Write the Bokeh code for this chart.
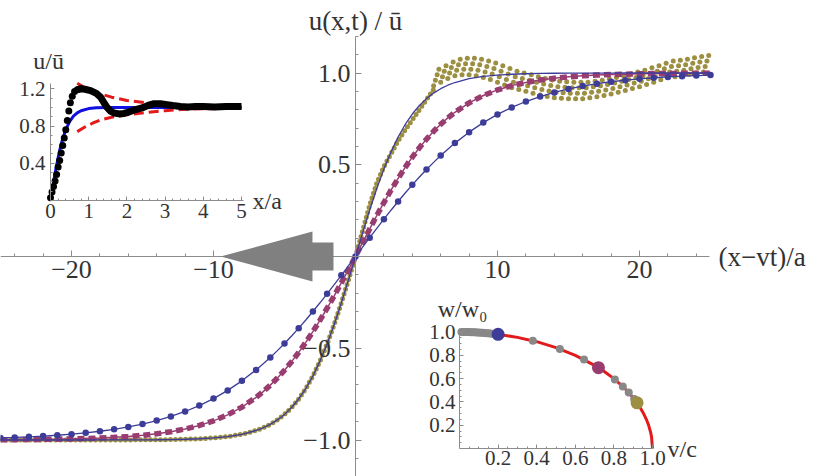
from bokeh.plotting import figure
from bokeh.models import Range1d, LinearAxis, FixedTicker, Label
from bokeh.embed import file_html
from bokeh.resources import INLINE

# ---------------- data ----------------
# main panel: common abscissa for the smooth curves
theory_x = [-25, -24, -23, -22, -21, -20, -19, -18, -17, -16, -15, -14, -13, -12, -11, -10, -9, -8, -7,
            -6.5, -6, -5.5, -5, -4.5, -4, -3.5, -3, -2.5, -2, -1.5, -1, -0.5, 0,
            0.5, 1, 1.5, 2, 2.5, 3, 3.5, 4, 4.5, 5, 5.5, 6, 6.5,
            7, 8, 9, 10, 11, 12, 13, 14, 15, 16, 17, 18, 19, 20, 21, 22, 23, 24, 25]
# theory curve through the blue (v/c = 0.2) data
blue_theory_y = [-0.9885, -0.9859, -0.9827, -0.9788, -0.9740, -0.9681, -0.9610, -0.9523, -0.9417, -0.9288,
                 -0.9132, -0.8943, -0.8717, -0.8446, -0.8124, -0.7743, -0.7296, -0.6777, -0.6179,
                 -0.5850, -0.5501, -0.5131, -0.4742, -0.4333, -0.3905, -0.3459, -0.2998, -0.2522, -0.2033,
                 -0.1534, -0.1027, -0.0515, 0.0,
                 0.0515, 0.1027, 0.1534, 0.2033, 0.2522, 0.2998, 0.3459, 0.3905, 0.4333, 0.4742, 0.5131,
                 0.5501, 0.5850,
                 0.6179, 0.6777, 0.7296, 0.7743, 0.8124, 0.8446, 0.8717, 0.8943, 0.9132, 0.9288, 0.9417,
                 0.9523, 0.9610, 0.9681, 0.9740, 0.9788, 0.9827, 0.9859, 0.9885]
# theory curve for the olive (v/c = 0.92) data
olive_theory_y = [-1.0, -1.0, -1.0, -1.0, -1.0, -0.9999, -0.9999, -0.9998, -0.9997, -0.9995, -0.9991,
                  -0.9986, -0.9976, -0.9960, -0.9933, -0.9888, -0.9813, -0.9688, -0.9482,
                  -0.9334, -0.9145, -0.8906, -0.8605, -0.8229, -0.7764, -0.7196, -0.6511, -0.5701, -0.4763,
                  -0.3702, -0.2535, -0.1288, 0.0,
                  0.1288, 0.2535, 0.3702, 0.4763, 0.5701, 0.6511, 0.7196, 0.7764, 0.8229, 0.8605, 0.8906,
                  0.9145, 0.9334,
                  0.9482, 0.9688, 0.9813, 0.9888, 0.9933, 0.9960, 0.9976, 0.9986, 0.9991, 0.9995, 0.9997,
                  0.9998, 0.9999, 0.9999, 1.0, 1.0, 1.0, 1.0, 1.0]
# purple (v/c = 0.72) simulation data
purple_y = [-0.9986, -0.9981, -0.9975, -0.9966, -0.9955, -0.9939, -0.9919, -0.9892, -0.9856, -0.9808,
            -0.9745, -0.9660, -0.9549, -0.9401, -0.9208, -0.8956, -0.8628, -0.8209, -0.7676,
            -0.7362, -0.7011, -0.6624, -0.6198, -0.5731, -0.5224, -0.4678, -0.4093, -0.3472, -0.2820,
            -0.2140, -0.1439, -0.0723, 0.0,
            0.0756, 0.1504, 0.2235, 0.2941, 0.3617, 0.4256, 0.4856, 0.5414, 0.5927, 0.6396, 0.6823,
            0.7207, 0.7552,
            0.7859, 0.8373, 0.8772, 0.9078, 0.9311, 0.9487, 0.9618, 0.9717, 0.9790, 0.9844, 0.9885,
            0.9915, 0.9937, 0.9953, 0.9966, 0.9975, 0.9981, 0.9986, 0.9990]
# blue simulation points
blue_dot_x = [-25, -24, -23, -22, -21, -20, -19, -18, -17, -16, -15, -14, -13, -12, -11, -10, -9, -8, -7,
              -6, -5, -4, -3, -2, -1, 0, 1, 2, 3, 4, 5, 6,
              7, 8, 9, 10, 11, 12, 13, 14, 15, 16, 17, 18, 19, 20, 21, 22, 23, 24, 25]
blue_dot_y = [-0.9885, -0.9859, -0.9827, -0.9788, -0.9740, -0.9681, -0.9610, -0.9523, -0.9417, -0.9288,
              -0.9132, -0.8943, -0.8717, -0.8446, -0.8124, -0.7743, -0.7296, -0.6777, -0.6179,
              -0.5501, -0.4742, -0.3905, -0.2998, -0.2033, -0.1027, 0.0, 0.1027, 0.2033, 0.2998, 0.3905,
              0.4742, 0.5501,
              0.6179, 0.6777, 0.7296, 0.7743, 0.8124, 0.8446, 0.8717, 0.8943, 0.9132, 0.9288, 0.9417,
              0.9523, 0.9610, 0.9681, 0.9740, 0.9788, 0.9827, 0.9859, 0.9885]
# olive simulation: kink part
olive_kink_x = [-25, -24, -23, -22, -21, -20, -19, -18, -17, -16, -15, -14, -13, -12, -11, -10, -9, -8, -7,
                -6.5, -6, -5.5, -5, -4.5, -4, -3.5, -3, -2.5, -2, -1.5, -1, -0.5, 0,
                0.5, 1, 1.5, 2, 2.5, 3, 3.5, 4, 4.5, 5, 5.5]
olive_kink_y = [-1.0, -1.0, -1.0, -1.0, -1.0, -0.9999, -0.9999, -0.9998, -0.9997, -0.9995, -0.9991,
                -0.9986, -0.9976, -0.9960, -0.9933, -0.9888, -0.9813, -0.9688, -0.9482,
                -0.9334, -0.9145, -0.8906, -0.8605, -0.8229, -0.7764, -0.7196, -0.6511, -0.5701, -0.4763,
                -0.3702, -0.2535, -0.1288, 0.0,
                0.14, 0.28, 0.40, 0.49, 0.56, 0.63, 0.69, 0.745, 0.80, 0.855, 0.91]
# olive simulation: oscillating tail (four strands of points)
olive_s1_x = [5.5, 6.0, 6.5, 7.0, 7.5, 8.0, 8.5, 9.0, 9.5, 10.0, 10.5, 11.0, 11.5, 12.0, 12.5, 13.0, 13.5,
              14.0, 14.5, 15.0, 15.5, 16.0, 16.5, 17.0, 17.5, 18.0, 18.5, 19.0, 19.5, 20.0, 20.5, 21.0,
              21.5, 22.0, 22.5, 23.0, 23.5, 24.0, 24.5]
olive_s1_y = [0.930, 0.950, 0.970, 0.985, 0.990, 0.990, 0.985, 0.975, 0.965, 0.950, 0.935, 0.920, 0.910,
              0.900, 0.890, 0.880, 0.872, 0.865, 0.862, 0.860, 0.859, 0.860, 0.865, 0.870, 0.877, 0.885,
              0.895, 0.905, 0.915, 0.925, 0.938, 0.950, 0.963, 0.975, 0.980, 0.985, 0.993, 1.000, 1.005]
olive_s2_x = [5.625, 6.125, 6.625, 7.125, 7.625, 8.125, 8.625, 9.125, 9.625, 10.125, 10.625, 11.125,
              11.625, 12.125, 12.625, 13.125, 13.625, 14.125, 14.625, 15.125, 15.625, 16.125, 16.625,
              17.125, 17.625, 18.125, 18.625, 19.125, 19.625, 20.125, 20.625, 21.125, 21.625, 22.125,
              22.625, 23.125, 23.625, 24.125, 24.625]
olive_s2_y = [0.960, 0.980, 1.000, 1.015, 1.020, 1.020, 1.015, 1.005, 0.995, 0.980, 0.965, 0.950, 0.940,
              0.930, 0.920, 0.910, 0.902, 0.895, 0.892, 0.890, 0.889, 0.890, 0.895, 0.900, 0.907, 0.915,
              0.925, 0.935, 0.945, 0.955, 0.968, 0.980, 0.993, 1.005, 1.010, 1.015, 1.023, 1.030, 1.035]
olive_s3_x = [5.75, 6.25, 6.75, 7.25, 7.75, 8.25, 8.75, 9.25, 9.75, 10.25, 10.75, 11.25, 11.75, 12.25,
              12.75, 13.25, 13.75, 14.25, 14.75, 15.25, 15.75, 16.25, 16.75, 17.25, 17.75, 18.25, 18.75,
              19.25, 19.75, 20.25, 20.75, 21.25, 21.75, 22.25, 22.75, 23.25, 23.75, 24.25, 24.75]
olive_s3_y = [0.990, 1.010, 1.030, 1.045, 1.050, 1.050, 1.045, 1.035, 1.025, 1.010, 0.995, 0.980, 0.970,
              0.960, 0.950, 0.940, 0.932, 0.925, 0.922, 0.920, 0.919, 0.920, 0.925, 0.930, 0.937, 0.945,
              0.955, 0.965, 0.975, 0.985, 0.998, 1.010, 1.023, 1.035, 1.040, 1.045, 1.053, 1.060, 1.065]
olive_s4_x = [5.875, 6.375, 6.875, 7.375, 7.875, 8.375, 8.875, 9.375, 9.875, 10.375, 10.875, 11.375,
              11.875, 12.375, 12.875, 13.375, 13.875, 14.375, 14.875, 15.375, 15.875, 16.375, 16.875,
              17.375, 17.875, 18.375, 18.875, 19.375, 19.875, 20.375, 20.875, 21.375, 21.875, 22.375,
              22.875, 23.375, 23.875, 24.375, 24.875]
olive_s4_y = [1.020, 1.040, 1.060, 1.075, 1.080, 1.080, 1.075, 1.065, 1.055, 1.040, 1.025, 1.010, 1.000,
              0.990, 0.980, 0.970, 0.962, 0.955, 0.952, 0.950, 0.949, 0.950, 0.955, 0.960, 0.967, 0.975,
              0.985, 0.995, 1.005, 1.015, 1.028, 1.040, 1.053, 1.065, 1.070, 1.075, 1.083, 1.090, 1.095]

main_x_ticks = [-20, -10, 10, 20]
main_x_labels = ["\u221220", "\u221210", "10", "20"]
main_x_minor = [-24, -22, -20, -18, -16, -14, -12, -10, -8, -6, -4, -2, 2, 4, 6, 8, 10, 12, 14, 16, 18, 20, 22, 24]
main_y_ticks = [-1.0, -0.5, 0.5, 1.0]
main_y_labels = ["\u22121.0", "\u22120.5", "0.5", "1.0"]
main_y_minor = [-1.2, -1.1, -1.0, -0.9, -0.8, -0.7, -0.6, -0.5, -0.4, -0.3, -0.2, -0.1,
                0.1, 0.2, 0.3, 0.4, 0.5, 0.6, 0.7, 0.8, 0.9, 1.0, 1.1, 1.2]

# inset 1 (top left): u/ubar vs x/a
in1_black_dot_x = [0.00, 0.04, 0.08, 0.12, 0.16, 0.20, 0.24, 0.28, 0.32, 0.36, 0.40, 0.44, 0.48, 0.52, 0.57, 0.63, 0.70, 0.79]
in1_black_dot_y = [0.03, 0.09, 0.15, 0.21, 0.28, 0.36, 0.43, 0.51, 0.59, 0.67, 0.76, 0.86, 0.96, 1.05, 1.12, 1.17, 1.19, 1.20]
in1_black_line_x = [0.70, 0.79, 0.90, 1.05, 1.20, 1.31, 1.40, 1.48, 1.57, 1.66, 1.80, 1.92, 2.05, 2.18,
                    2.30, 2.44, 2.58, 2.71, 2.88, 3.05, 3.20, 3.40, 3.60, 3.80, 4.00, 4.30, 4.60, 5.00]
in1_black_line_y = [1.19, 1.20, 1.195, 1.18, 1.15, 1.11, 1.05, 1.00, 0.96, 0.94, 0.93, 0.935, 0.95, 0.97,
                    0.985, 1.00, 1.025, 1.04, 1.04, 1.03, 1.02, 1.01, 1.005, 1.01, 1.01, 1.005, 1.01, 1.01]
in1_blue_x = [0, 0.05, 0.1, 0.15, 0.2, 0.25, 0.3, 0.4, 0.5, 0.6, 0.7, 0.8, 1.0, 1.2, 1.5, 2.0, 3.0, 4.0, 5.0]
in1_blue_y = [0, 0.124, 0.245, 0.358, 0.462, 0.555, 0.635, 0.762, 0.848, 0.905, 0.941, 0.964, 0.987, 0.995,
              0.999, 1.0, 1.0, 1.0, 1.0]
in1_env_x = [0.7, 0.9, 1.1, 1.3, 1.6, 2.0, 2.5, 3.0, 3.5, 4.0, 4.5, 5.0]
in1_env_upper = [1.26, 1.21, 1.17, 1.145, 1.11, 1.075, 1.05, 1.035, 1.02, 1.015, 1.01, 1.005]
in1_env_lower = [0.74, 0.79, 0.83, 0.865, 0.895, 0.92, 0.945, 0.965, 0.98, 0.985, 0.99, 0.995]
in1_x_ticks = [0, 1, 2, 3, 4, 5]
in1_x_labels = ["0", "1", "2", "3", "4", "5"]
in1_x_minor = [0.2, 0.4, 0.6, 0.8, 1.2, 1.4, 1.6, 1.8, 2.2, 2.4, 2.6, 2.8, 3.2, 3.4, 3.6, 3.8, 4.2, 4.4, 4.6, 4.8]
in1_y_ticks = [0.4, 0.8, 1.2]
in1_y_labels = ["0.4", "0.8", "1.2"]
in1_y_minor = [0.1, 0.2, 0.3, 0.5, 0.6, 0.7, 0.9, 1.0, 1.1]

# inset 2 (bottom right): w/w0 vs v/c
in2_curve_v = [0, 0.1, 0.2, 0.3, 0.4, 0.5, 0.6, 0.7, 0.75, 0.8, 0.85, 0.9, 0.93, 0.95, 0.97, 0.98, 0.99, 0.995, 1.0]
in2_curve_w = [1.0, 0.995, 0.980, 0.954, 0.917, 0.866, 0.800, 0.714, 0.661, 0.600, 0.527, 0.436, 0.368,
               0.312, 0.243, 0.199, 0.141, 0.100, 0.0]
in2_gray_v = [0.01, 0.02, 0.03, 0.04, 0.05, 0.06, 0.07, 0.08, 0.09, 0.10, 0.11, 0.12, 0.13, 0.14, 0.15,
              0.16, 0.17, 0.38, 0.52, 0.645, 0.805, 0.846, 0.877, 0.905]
in2_gray_w = [1.0, 1.0, 1.0, 0.999, 0.999, 0.998, 0.998, 0.997, 0.996, 0.995, 0.994, 0.993, 0.992, 0.990,
              0.989, 0.987, 0.985, 0.925, 0.854, 0.764, 0.593, 0.533, 0.480, 0.425]
in2_big_v = [0.20, 0.72, 0.92]
in2_big_w = [0.980, 0.694, 0.392]
in2_ticks = [0.2, 0.4, 0.6, 0.8, 1.0]
in2_labels = ["0.2", "0.4", "0.6", "0.8", "1.0"]
in2_minor = [0.05, 0.1, 0.15, 0.25, 0.3, 0.35, 0.45, 0.5, 0.55, 0.65, 0.7, 0.75, 0.85, 0.9, 0.95]

# ---------------- layout / style ----------------
W, H = 813, 476
FONT = "Liberation Serif"
TXT = "#333333"
AXC = "#8c8c8c"
BLUE = "#3D3D99"
PURPLE = "#993D71"
OLIVE = "#9C8F42"
GRAY = "#888888"

# each panel: origin position on the canvas (px from left, px from top) and px per data unit
GEOM = {
    "default": (355.0, 256.0, 14.2, 183.5),
    "in1": (50.0, 200.0, 38.2, 93.1),
    "in2": (459.0, 448.0, 193.0, 116.5),
}


def make_ranges(g):
    ox, oy, kx, ky = g
    return Range1d(-ox / kx, (W - ox) / kx), Range1d(-(H - oy) / ky, oy / ky)


mx, my = make_ranges(GEOM["default"])
p = figure(width=W, height=H, x_range=mx, y_range=my, output_backend="svg", toolbar_location=None,
           x_axis_location=None, y_axis_location=None, min_border=0, outline_line_color=None,
           background_fill_color="white", border_fill_color="white")
p.grid.visible = False
xr, yr = {}, {}
for nm in ("in1", "in2"):
    rx, ry = make_ranges(GEOM[nm])
    xr[nm] = rx
    yr[nm] = ry
p.extra_x_ranges = xr
p.extra_y_ranges = yr


def add_axis(side, rname, ticks, labels, minor, bounds, size, tin, tmin, standoff):
    ax = LinearAxis(x_range_name=rname, y_range_name=rname, fixed_location=0, bounds=bounds,
                    ticker=FixedTicker(ticks=ticks, minor_ticks=minor))
    ax.major_label_overrides = dict(zip(ticks, labels))
    ax.axis_line_color = AXC
    ax.axis_line_width = 1
    ax.major_tick_line_color = AXC
    ax.minor_tick_line_color = AXC
    ax.major_tick_in = tin
    ax.major_tick_out = 0
    ax.minor_tick_in = tmin
    ax.minor_tick_out = 0
    ax.major_label_text_font = FONT
    ax.major_label_text_font_size = size
    ax.major_label_text_color = TXT
    ax.major_label_standoff = standoff
    p.add_layout(ax, side)


add_axis("below", "default", main_x_ticks, main_x_labels, main_x_minor, (-25, 24.9), "26px", 6, 3, 4)
add_axis("left", "default", main_y_ticks, main_y_labels, main_y_minor, (-1.2, 1.2), "26px", 6, 3, 5)
add_axis("below", "in1", in1_x_ticks, in1_x_labels, in1_x_minor, (0, 5.05), "21px", 4, 2, 3)
add_axis("left", "in1", in1_y_ticks, in1_y_labels, in1_y_minor, (0, 1.26), "21px", 4, 2, 5)
add_axis("below", "in2", in2_ticks, in2_labels, in2_minor, (0, 1.0), "21px", 4, 2, 2)
add_axis("left", "in2", in2_ticks, in2_labels, in2_minor, (0, 1.0), "21px", 4, 2, 4)

# ---------------- main panel glyphs ----------------
p.line(olive_kink_x, olive_kink_y, line_color=OLIVE, line_width=5, line_dash="0 5", line_cap="round")
for sx_, sy_ in ((olive_s1_x, olive_s1_y), (olive_s2_x, olive_s2_y),
                 (olive_s3_x, olive_s3_y), (olive_s4_x, olive_s4_y)):
    p.scatter(sx_, sy_, size=5, color=OLIVE, line_color=None)
p.line(theory_x, purple_y, line_color=PURPLE, line_width=1.5)
p.line(theory_x, purple_y, line_color=PURPLE, line_width=5.5, line_dash="7 4")
p.scatter(blue_dot_x, blue_dot_y, size=6.5, color=BLUE, line_color=None)
p.line(theory_x, blue_theory_y, line_color=BLUE, line_width=1.3)
p.line(theory_x, olive_theory_y, line_color=BLUE, line_width=1.3)

# big grey arrow (pointing to -x), shape constants in main data units
TIP_X, HEAD_X, TAIL_X, HEAD_H, SHAFT_H = -9.5, -3.03, -1.55, 0.136, 0.076
p.patch([TIP_X, HEAD_X, HEAD_X, TAIL_X, TAIL_X, HEAD_X, HEAD_X],
        [0, HEAD_H, SHAFT_H, SHAFT_H, -SHAFT_H, -SHAFT_H, -HEAD_H],
        color="#808080", line_color=None, level="overlay")

# ---------------- inset 1 glyphs ----------------
k1 = dict(x_range_name="in1", y_range_name="in1")
p.line(in1_blue_x, in1_blue_y, line_color="#1010E0", line_width=3, **k1)
p.line(in1_env_x, in1_env_upper, line_color="#E31A1C", line_width=3, line_dash="10 5", **k1)
p.line(in1_env_x, in1_env_lower, line_color="#E31A1C", line_width=3, line_dash="10 5", **k1)
p.line(in1_black_line_x, in1_black_line_y, line_color="black", line_width=7, line_join="round", **k1)
p.scatter(in1_black_dot_x, in1_black_dot_y, size=7, color="black", line_color=None, **k1)

# ---------------- inset 2 glyphs ----------------
k2 = dict(x_range_name="in2", y_range_name="in2")
p.line(in2_curve_v, in2_curve_w, line_color="#E31A1C", line_width=3, **k2)
p.scatter(in2_gray_v, in2_gray_w, size=8, color=GRAY, line_color=None, **k2)
p.scatter(in2_big_v, in2_big_w, size=13, color=[BLUE, PURPLE, OLIVE], line_color=None, **k2)

# ---------------- axis titles ----------------
def add_label(text, x, y, rname, size, align):
    p.add_layout(Label(x=x, y=y, text=text, x_range_name=rname, y_range_name=rname,
                       text_font=FONT, text_font_size=size, text_color=TXT,
                       text_align=align, text_baseline="middle"))


add_label("u(x,t) / \u016b", 0.0, 1.286, "default", "27px", "center")
add_label("(x\u2212vt)/a", 25.56, 0.0, "default", "27px", "left")
add_label("u/\u016b", -0.05, 1.50, "in1", "24px", "center")
add_label("x/a", 5.29, 0.0, "in1", "24px", "left")
add_label("w/w\u2080", 0.016, 1.20, "in2", "24px", "center")
add_label("v/c", 1.078, 0.0, "in2", "24px", "left")

open("out.html", "w").write(file_html(p, INLINE))
